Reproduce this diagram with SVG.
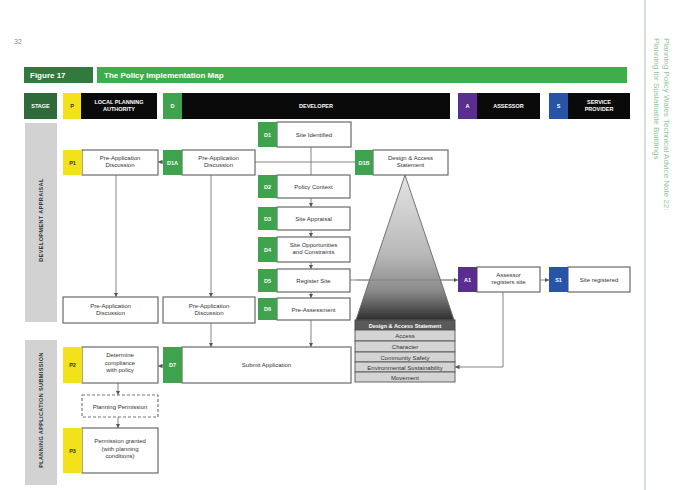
<svg xmlns="http://www.w3.org/2000/svg" width="680" height="490" viewBox="0 0 680 490">
<defs>
<linearGradient id="pyr" x1="0" y1="0" x2="0" y2="1">
<stop offset="0" stop-color="#e4e4e4"/>
<stop offset="0.55" stop-color="#b8b8b8"/>
<stop offset="0.8" stop-color="#8a8a8a"/>
<stop offset="1" stop-color="#2e2e2e"/>
</linearGradient>
<marker id="ah" viewBox="0 0 6 6" refX="6" refY="3" markerWidth="5" markerHeight="5" orient="auto">
<path d="M0,0 L6,3 L0,6 z" fill="#555"/>
</marker>
<style>
text{font-family:"Liberation Sans",Arial,sans-serif;}
.box{fill:#fff;stroke:#6a6a6a;stroke-width:1.2;}
.dash{fill:#fff;stroke:#777;stroke-width:1.2;stroke-dasharray:3,2;}
.y{fill:#f3e21b;}
.g{fill:#3fa34d;}
.pu{fill:#5a2d91;}
.bl{fill:#2754a6;}
.blk{fill:#0a0a0a;}
.t{font-size:6px;fill:#333;text-anchor:middle;}
.bw{font-size:5.5px;font-weight:bold;fill:#fff;text-anchor:middle;}
.bd{font-size:5.5px;font-weight:bold;fill:#333;text-anchor:middle;}
.hw{font-size:5.5px;font-weight:bold;fill:#fff;text-anchor:middle;}
.ln{fill:none;stroke:#777;stroke-width:0.9;}
.strip{fill:#d4d4d4;stroke:#555;stroke-width:0.9;}
.band{fill:#d2d2d2;}
.vt{font-size:5.5px;font-weight:bold;fill:#333;text-anchor:middle;letter-spacing:0.4px;}
.side{font-size:8px;fill:#8cc79a;}
</style>
</defs>
<rect width="680" height="490" fill="#fff"/>
<text x="14" y="44" font-size="7" fill="#888">32</text>
<line x1="645" y1="0" x2="645" y2="490" stroke="#c5d8c8" stroke-width="1.5"/>
<g transform="translate(664,38) rotate(90)">
<text x="0" y="0" class="side">Planning Policy Wales Technical Advice Note 22:</text>
<text x="0" y="10" class="side">Planning for Sustainable Buildings</text>
</g>

<g id="title">
<rect x="24" y="67" width="69" height="16" fill="#2f7a3c"/>
<text x="30" y="78" font-size="8" font-weight="bold" fill="#fff">Figure 17</text>
<rect x="97" y="67" width="530" height="16" fill="#3fae4a"/>
<text x="104" y="78" font-size="8" font-weight="bold" fill="#fff">The Policy Implementation Map</text>
</g>

<g id="header">
<rect x="24" y="93" width="33" height="26" fill="#2f6b3a"/>
<text x="40.5" y="108" class="hw">STAGE</text>
<rect x="63" y="93" width="18" height="26" class="y"/>
<text x="72" y="108" class="bd">P</text>
<rect x="81" y="93" width="76" height="26" class="blk"/>
<text x="119" y="104" class="hw">LOCAL PLANNING</text>
<text x="119" y="111" class="hw">AUTHORITY</text>
<rect x="163" y="93" width="19" height="26" class="g"/>
<text x="172.5" y="108" class="bw">D</text>
<rect x="182" y="93" width="268" height="26" class="blk"/>
<text x="316" y="108" class="hw">DEVELOPER</text>
<rect x="458" y="93" width="19" height="26" class="pu"/>
<text x="467.5" y="108" class="bw">A</text>
<rect x="477" y="93" width="63" height="26" class="blk"/>
<text x="508.5" y="108" class="hw">ASSESSOR</text>
<rect x="549" y="93" width="19" height="26" class="bl"/>
<text x="558.5" y="108" class="bw">S</text>
<rect x="568" y="93" width="62" height="26" class="blk"/>
<text x="599" y="104" class="hw">SERVICE</text>
<text x="599" y="111" class="hw">PROVIDER</text>
</g>

<g id="stage1">
<rect x="25" y="123" width="32" height="199" class="band"/>
<text transform="translate(43,220) rotate(-90)" class="vt">DEVELOPMENT APPRAISAL</text>
</g>
<g id="stage2">
<rect x="25" y="340" width="32" height="145" class="band"/>
<text transform="translate(43,410) rotate(-90)" class="vt">PLANNING APPLICATION SUBMISSION</text>
</g>

<g id="connectors">
<line x1="163" y1="162" x2="158" y2="162" class="ln" marker-end="url(#ah)"/>
<line x1="116" y1="175" x2="116" y2="297" class="ln" marker-end="url(#ah)"/>
<line x1="211" y1="175" x2="211" y2="297" class="ln" marker-end="url(#ah)"/>
<line x1="311" y1="147" x2="311" y2="175" class="ln"/>
<line x1="255" y1="162" x2="355" y2="162" class="ln"/>
<line x1="311" y1="198" x2="311" y2="207" class="ln" marker-end="url(#ah)"/>
<line x1="311" y1="230" x2="311" y2="237" class="ln" marker-end="url(#ah)"/>
<line x1="311" y1="262" x2="311" y2="269" class="ln" marker-end="url(#ah)"/>
<line x1="311" y1="292" x2="311" y2="298" class="ln" marker-end="url(#ah)"/>
<line x1="350" y1="280" x2="458" y2="280" class="ln" marker-end="url(#ah)"/>
<line x1="540" y1="280" x2="549" y2="280" class="ln" marker-end="url(#ah)"/>
<polyline points="503,292 503,367 455,367" class="ln" marker-end="url(#ah)"/>
<line x1="211" y1="323" x2="211" y2="347" class="ln" marker-end="url(#ah)"/>
<line x1="311" y1="320" x2="311" y2="347" class="ln" marker-end="url(#ah)"/>
<line x1="163" y1="366" x2="158" y2="366" class="ln" marker-end="url(#ah)"/>
<line x1="118" y1="383" x2="118" y2="395" class="ln" marker-end="url(#ah)"/>
<line x1="118" y1="417" x2="118" y2="428" class="ln" marker-end="url(#ah)"/>
</g>

<g id="P1">
<rect x="82" y="150" width="76" height="25" class="box"/>
<rect x="63" y="150" width="19" height="25" class="y"/>
<text x="72.5" y="164.5" class="bd">P1</text>
<text x="120" y="160" class="t">Pre-Application</text>
<text x="120" y="167" class="t">Discussion</text>
</g>
<g id="D1A">
<rect x="182" y="150" width="73" height="25" class="box"/>
<rect x="163" y="150" width="19" height="25" class="g"/>
<text x="172.5" y="164.5" class="bw">D1A</text>
<text x="218.5" y="160" class="t">Pre-Application</text>
<text x="218.5" y="167" class="t">Discussion</text>
</g>
<g id="D1">
<rect x="277" y="122" width="74" height="25" class="box"/>
<rect x="258" y="122" width="19" height="25" class="g"/>
<text x="267.5" y="136.5" class="bw">D1</text>
<text x="314" y="137" class="t">Site Identified</text>
</g>
<g id="D1B">
<rect x="373" y="150" width="75" height="25" class="box"/>
<rect x="355" y="150" width="18" height="25" class="g"/>
<text x="364" y="164.5" class="bw">D1B</text>
<text x="410.5" y="160" class="t">Design &amp; Access</text>
<text x="410.5" y="167" class="t">Statement</text>
</g>
<g id="D2">
<rect x="277" y="175" width="73" height="23" class="box"/>
<rect x="258" y="175" width="19" height="23" class="g"/>
<text x="267.5" y="188.5" class="bw">D2</text>
<text x="313.5" y="189" class="t">Policy Context</text>
</g>
<g id="D3">
<rect x="277" y="207" width="73" height="23" class="box"/>
<rect x="258" y="207" width="19" height="23" class="g"/>
<text x="267.5" y="220.5" class="bw">D3</text>
<text x="313.5" y="221" class="t">Site Appraisal</text>
</g>
<g id="D4">
<rect x="277" y="237" width="73" height="25" class="box"/>
<rect x="258" y="237" width="19" height="25" class="g"/>
<text x="267.5" y="251.5" class="bw">D4</text>
<text x="313.5" y="247" class="t">Site Opportunities</text>
<text x="313.5" y="254" class="t">and Constraints</text>
</g>
<g id="D5">
<rect x="277" y="269" width="73" height="23" class="box"/>
<rect x="258" y="269" width="19" height="23" class="g"/>
<text x="267.5" y="282.5" class="bw">D5</text>
<text x="313.5" y="283" class="t">Register Site</text>
</g>
<g id="D6">
<rect x="277" y="298" width="73" height="22" class="box"/>
<rect x="258" y="298" width="19" height="22" class="g"/>
<text x="267.5" y="311" class="bw">D6</text>
<text x="313.5" y="311.5" class="t">Pre-Assessment</text>
</g>
<g id="PA1">
<rect x="63" y="297" width="95" height="26" class="box"/>
<text x="110.5" y="308" class="t">Pre-Application</text>
<text x="110.5" y="315" class="t">Discussion</text>
</g>
<g id="PA2">
<rect x="163" y="297" width="92" height="26" class="box"/>
<text x="209" y="308" class="t">Pre-Application</text>
<text x="209" y="315" class="t">Discussion</text>
</g>
<g id="P2">
<rect x="82" y="347" width="76" height="36" class="box"/>
<rect x="63" y="347" width="19" height="36" class="y"/>
<text x="72.5" y="367" class="bd">P2</text>
<text x="120" y="357" class="t">Determine</text>
<text x="120" y="364.5" class="t">compliance</text>
<text x="120" y="372" class="t">with policy</text>
</g>
<g id="D7">
<rect x="182" y="347" width="169" height="36" class="box"/>
<rect x="163" y="347" width="19" height="36" class="g"/>
<text x="172.5" y="367" class="bw">D7</text>
<text x="266.5" y="367" class="t">Submit Application</text>
</g>
<g id="PP">
<rect x="82" y="395" width="76" height="22" class="dash"/>
<text x="120" y="408.5" class="t">Planning Permission</text>
</g>
<g id="P3">
<rect x="82" y="428" width="76" height="45" class="box"/>
<rect x="63" y="428" width="19" height="45" class="y"/>
<text x="72.5" y="452.5" class="bd">P3</text>
<text x="120" y="443" class="t">Permission granted</text>
<text x="120" y="450.5" class="t">(with planning</text>
<text x="120" y="458" class="t">conditions)</text>
</g>
<g id="A1">
<rect x="477" y="267" width="63" height="25" class="box"/>
<rect x="458" y="267" width="19" height="25" class="pu"/>
<text x="467.5" y="281.5" class="bw">A1</text>
<text x="508.5" y="277" class="t">Assessor</text>
<text x="508.5" y="284" class="t">registers site</text>
</g>
<g id="S1">
<rect x="568" y="267" width="62" height="25" class="box"/>
<rect x="549" y="267" width="19" height="25" class="bl"/>
<text x="558.5" y="281.5" class="bw">S1</text>
<text x="599" y="281.5" class="t">Site registered</text>
</g>

<g id="pyramid">
<polygon points="405,175 454,320 356,320" fill="url(#pyr)" stroke="#666" stroke-width="0.9"/>
<line x1="356" y1="280" x2="454" y2="280" stroke="#777" stroke-width="0.6"/>
<rect x="355" y="320" width="100" height="10" fill="#5a5a5a" stroke="#444" stroke-width="0.9"/>
<text x="405" y="327.5" font-size="5.5" font-weight="bold" fill="#fff" text-anchor="middle">Design &amp; Access Statement</text>
<rect x="355" y="330" width="100" height="11" class="strip"/>
<text x="405" y="338" class="t">Access</text>
<rect x="355" y="341" width="100" height="11" class="strip"/>
<text x="405" y="349" class="t">Character</text>
<rect x="355" y="352" width="100" height="10" class="strip"/>
<text x="405" y="359.5" class="t">Community Safety</text>
<rect x="355" y="362" width="100" height="10" class="strip"/>
<text x="405" y="369.5" class="t">Environmental Sustainability</text>
<rect x="355" y="372" width="100" height="10" class="strip"/>
<text x="405" y="379.5" class="t">Movement</text>
</g>
</svg>
